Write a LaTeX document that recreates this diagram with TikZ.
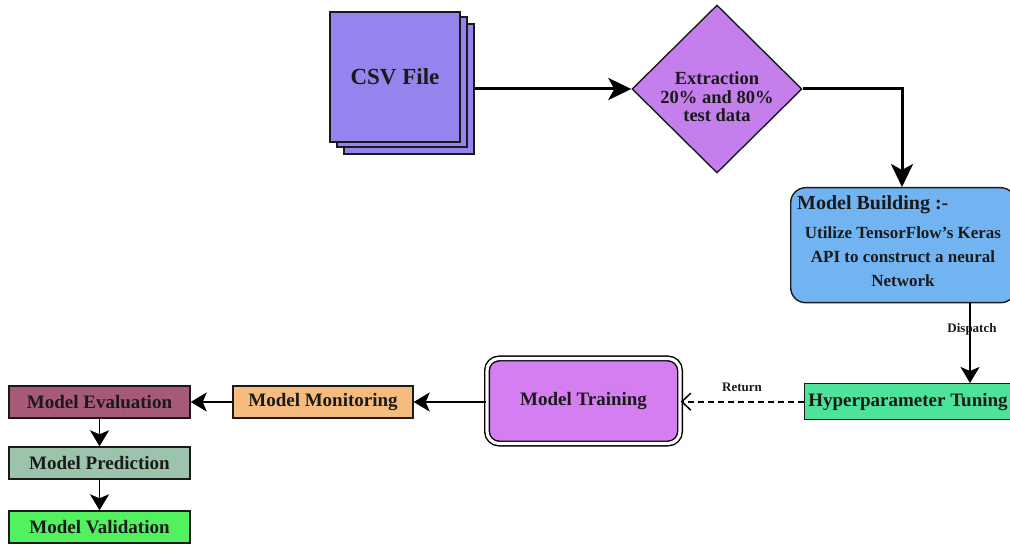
\documentclass[tikz,border=0pt]{standalone}
\usepackage{fontspec}
\setmainfont{Liberation Serif}
\usetikzlibrary{arrows.meta,shapes.geometric}
\definecolor{ink}{HTML}{1A1A1A}
\definecolor{csvfill}{HTML}{9783ED}
\definecolor{extfill}{HTML}{C47FEC}
\definecolor{buildfill}{HTML}{72B4F2}
\definecolor{hyperfill}{HTML}{4DE39B}
\definecolor{trainfill}{HTML}{D47EF2}
\definecolor{monfill}{HTML}{F5BC7E}
\definecolor{evalfill}{HTML}{A65A78}
\definecolor{predfill}{HTML}{9CC4AA}
\definecolor{valfill}{HTML}{52F25E}
\newcommand{\fs}[1]{\fontsize{#1}{\fpeval{#1*1.1}}\selectfont\bfseries}
\newcommand{\fsl}[2]{\fontsize{#1}{#2}\selectfont\bfseries}
\tikzset{
  sheet/.style={draw=ink,line width=1.4pt,fill=csvfill,minimum width=130pt,minimum height=130pt,inner sep=0pt},
  flatbox/.style={draw=ink,line width=1.4pt,inner sep=0pt,text=ink,font=\fs{19}},
  heavy/.style={draw=black,line width=3pt,-{Stealth[length=23pt,width=22pt,inset=6pt]}},
  light/.style={draw=black,line width=1.9pt,-{Stealth[length=16pt,width=19pt,inset=4pt]}},
  lbl/.style={text=ink,font=\fs{13},inner sep=1pt}
}
\begin{document}
\begin{tikzpicture}[x=1pt,y=-1pt]
\useasboundingbox (0,0) rectangle (1010,545);

% stacked CSV sheets
\node[sheet] (csv3) at (409,89) {};
\node[sheet] (csv2) at (402,82) {};
\node[sheet,text=ink,font=\fs{23}] (csv) at (395,77) {CSV File};

% extraction decision
\node[diamond,draw=ink,line width=1.4pt,fill=extfill,minimum width=170pt,minimum height=168pt,
      inner sep=0pt,aspect=1] (ext) at (717,89) {};
\node[align=center,text=ink,font={\fsl{18.5}{18.5}},inner sep=0pt] (exttext) at (717,97)
  {Extraction\\20\% and 80\%\\test data};

% model building
\node[draw=ink,line width=1.4pt,fill=buildfill,rounded corners=15pt,minimum width=225pt,
      minimum height=115pt,inner sep=0pt,anchor=north west] (build) at (790,187) {};
\node[anchor=west,text=ink,font=\fs{20},inner sep=0pt] (buildtitle) at (797,205) {Model Building :-};
\node[align=center,text=ink,font={\fsl{17}{24}},inner sep=0pt] (buildtext) at (903,257)
  {Utilize TensorFlow's Keras\\API to construct a neural\\Network};

% hyperparameter tuning
\node[flatbox,fill=hyperfill,minimum width=212pt,minimum height=36pt,anchor=north west] (hyper) at (804,383) {};
\node[text=ink,font=\fs{19},inner sep=0pt] (hypertext) at (908,402) {Hyperparameter Tuning};

% model training (double border)
\node[draw=black,line width=1.4pt,double=white,double distance=3.2pt,fill=trainfill,rounded corners=12pt,
      minimum width=193pt,minimum height=85pt,inner sep=0pt,text=ink,font=\fs{19}] (train) at (583.5,401) {Model Training};

% lower chain
\node[flatbox,fill=monfill,minimum width=180pt,minimum height=32pt] (mon) at (323,402) {Model Monitoring};
\node[flatbox,fill=evalfill,minimum width=181pt,minimum height=32pt] (eval) at (99.5,402) {Model Evaluation};
\node[flatbox,fill=predfill,minimum width=181pt,minimum height=32pt] (pred) at (99.5,463) {Model Prediction};
\node[flatbox,fill=valfill,minimum width=181pt,minimum height=32pt] (val) at (99.5,527) {Model Validation};

% connectors
\draw[heavy] (csv3.east |- ext.west) -- (ext.west);
\coordinate (turn) at (902,89);
\draw[heavy] (ext.east) -- (turn) -- (turn |- build.north);
\coordinate (dtop) at (970,302);
\draw[light] (dtop) -- (dtop |- hyper.north);
\node[lbl] (dlab) at (972,329) {Dispatch};
\draw[black,line width=1.7pt,dash pattern=on 6pt off 4pt,-{Straight Barb[length=9pt,width=17pt,line width=1.5pt]}]
  (hyper.west) -- (hyper.west -| train.east);
\node[lbl] (rlab) at (742,387) {Return};
\draw[light] (train.west |- mon.east) -- (mon.east);
\draw[light] (mon.west) -- (eval.east);
\draw[light] (eval.south) -- (pred.north);
\draw[light] (pred.south) -- (val.north);
\end{tikzpicture}
\end{document}
